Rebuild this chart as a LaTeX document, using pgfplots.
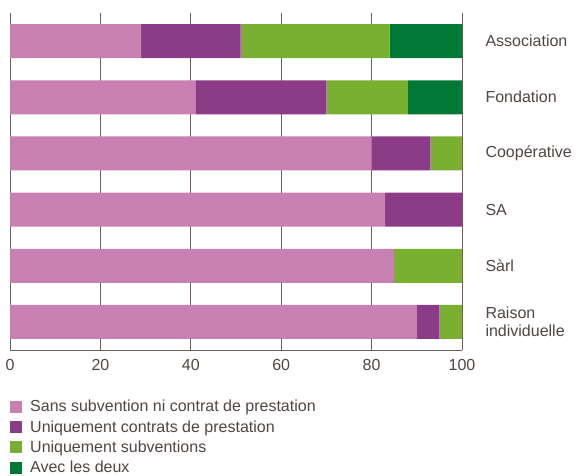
\documentclass[border=0pt]{standalone}
\usepackage{fontspec}
\setmainfont{Liberation Sans}
\usepackage{pgfplots}
\pgfplotsset{compat=1.18}
\definecolor{cpink}{HTML}{C87FB1}
\definecolor{cpurple}{HTML}{8C3C87}
\definecolor{clgreen}{HTML}{7AB032}
\definecolor{cdgreen}{HTML}{007836}
\definecolor{gridc}{HTML}{6B625B}
\definecolor{txt}{HTML}{504641}
\begin{document}
\begin{tikzpicture}
\begin{axis}[
  xbar stacked,
  scale only axis,
  width=452pt, height=337pt,
  xmin=0, xmax=100,
  ymin=-0.5, ymax=5.5,
  y dir=reverse,
  bar width=34pt,
  axis x line*=bottom,
  axis y line*=right,
  x axis line style={gridc, line width=0.8pt, -},
  y axis line style={draw=none},
  xtick={0,20,...,100},
  ytick={0,...,5},
  yticklabels={Association, Fondation, Coopérative, SA, Sàrl, {Raison\\individuelle}},
  yticklabel style={anchor=west, align=left, xshift=20pt, font=\fontsize{16}{18}\selectfont, text=txt},
  xticklabel style={font=\fontsize{16}{18}\selectfont, text=txt, yshift=-6pt},
  /pgf/number format/assume math mode=true,
  major tick length=0pt,
  xmajorgrids,
  grid style={gridc, line width=0.8pt},
  legend style={at={(axis description cs:0,0)}, anchor=north west, yshift=-48pt, xshift=0pt,
    draw=none, fill=none, font=\fontsize{16}{18}\selectfont, text=txt, row sep=3.2pt,
    inner sep=0pt, cells={anchor=west}},
  legend image code/.code={\path[#1,draw=none] (0pt,-6pt) rectangle (12pt,6pt); \path (18pt,0pt);},
  legend cell align=left,
]
\addplot[fill=cpink, draw=none] coordinates {(29,0) (41,1) (80,2) (83,3) (85,4) (90,5)};
\addplot[fill=cpurple, draw=none] coordinates {(22,0) (29,1) (13,2) (17,3) (0,4) (5,5)};
\addplot[fill=clgreen, draw=none] coordinates {(33,0) (18,1) (7,2) (0,3) (15,4) (5,5)};
\addplot[fill=cdgreen, draw=none] coordinates {(16,0) (12,1) (0,2) (0,3) (0,4) (0,5)};
\legend{Sans subvention ni contrat de prestation, Uniquement contrats de prestation, Uniquement subventions, Avec les deux}
\coordinate (tl) at (axis description cs:0,1);
\end{axis}
\pgfresetboundingbox
\path (tl) ++(-10pt,13pt) coordinate (a);
\path (a) ++(576pt,-475pt) coordinate (b);
\path (a) rectangle (b);
\end{tikzpicture}
\end{document}
